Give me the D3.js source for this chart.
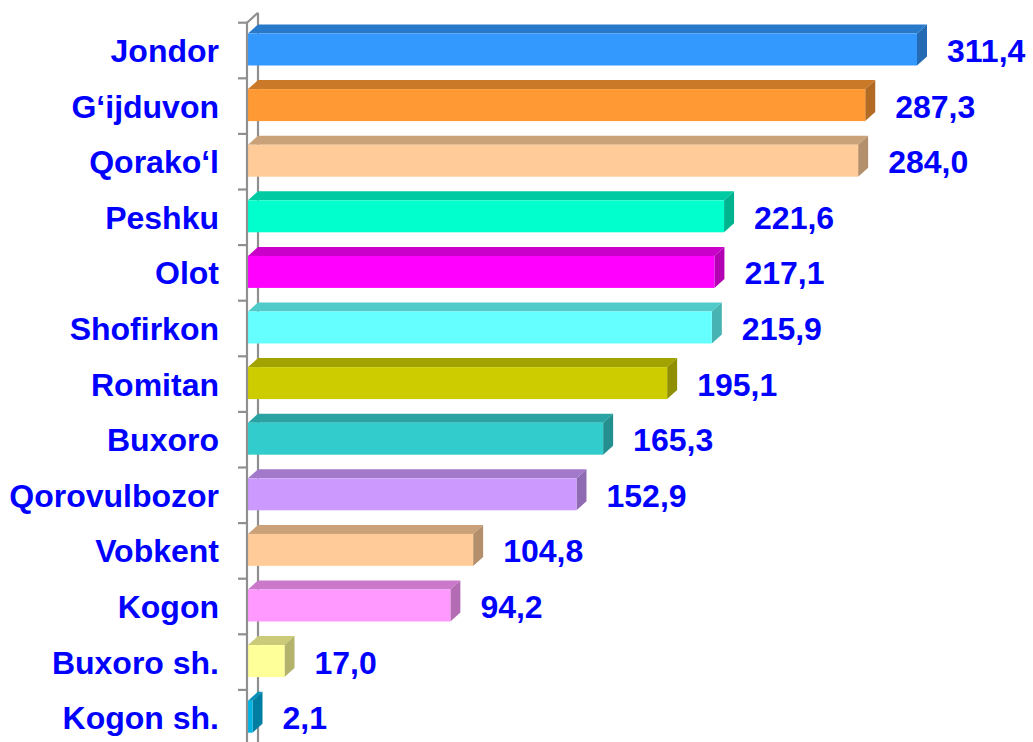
<!DOCTYPE html>
<html>
<head>
<meta charset="utf-8">
<script src="https://cdn.jsdelivr.net/npm/d3@7"></script>
<style>
  html, body { margin: 0; padding: 0; background: #fff; }
  svg { display: block; }
  text { font-family: "Liberation Sans", Arial, sans-serif; font-weight: bold; fill: #0000FF; }
</style>
</head>
<body>
<svg id="chart" width="1033" height="742"></svg>
<script>
// District names and values
const districts = ["Jondor", "G‘ijduvon", "Qorako‘l", "Peshku", "Olot", "Shofirkon",
  "Romitan", "Buxoro", "Qorovulbozor", "Vobkent", "Kogon", "Buxoro sh.", "Kogon sh."];
const values = [311.4, 287.3, 284.0, 221.6, 217.1, 215.9, 195.1, 165.3, 152.9, 104.8, 94.2, 17.0, 2.1];

// Front-face colour of each bar
const palette = ["#3399FF", "#FF9933", "#FFCC99", "#00FFCC", "#FF00FF", "#66FFFF",
  "#CCCC00", "#33CCCC", "#CC99FF", "#FFCC99", "#FF99FF", "#FFFF99", "#00B4E6"];

const svg = d3.select("#chart");
const depthX = 10, depthY = 9;      // oblique depth of the 3D bars
const x0 = 248;

const x = d3.scaleLinear().domain([0, 311.4]).range([x0, 917]);
const y = d3.scaleBand().domain(districts).range([22.7, 22.7 + 55.6 * districts.length]);

const fmt = v => d3.format(".1f")(v).replace(".", ",");
const axisColor = "#8f8f8f";

// back wall edge and its top diagonal
svg.append("line")
  .attr("x1", x0 + depthX).attr("x2", x0 + depthX)
  .attr("y1", y.range()[0] - depthY - 1).attr("y2", 742)
  .attr("stroke", axisColor).attr("stroke-width", 2.2);
svg.append("line")
  .attr("x1", x0 - 1).attr("y1", y.range()[0])
  .attr("x2", x0 + depthX).attr("y2", y.range()[0] - depthY - 1)
  .attr("stroke", axisColor).attr("stroke-width", 2.2);

const rows = districts.map((d, i) => ({ name: d, value: values[i], color: palette[i] }));

const bar = svg.append("g").selectAll("g").data(rows).join("g");
const faceH = 32;
bar.each(function (d) {
  const g = d3.select(this);
  const cy = y(d.name) + y.bandwidth() / 2;
  const yt = cy - faceH / 2 - 1, yb = yt + faceH;
  const x1 = x(d.value);
  const c = d3.color(d.color);
  // top face
  g.append("polygon")
    .attr("points", [[x0, yt], [x0 + depthX, yt - depthY], [x1 + depthX, yt - depthY], [x1, yt]].join(" "))
    .attr("fill", c.darker(0.65));
  // end face
  g.append("polygon")
    .attr("points", [[x1, yt], [x1 + depthX, yt - depthY], [x1 + depthX, yb - depthY], [x1, yb]].join(" "))
    .attr("fill", c.darker(1.0));
  // front face
  g.append("rect")
    .attr("x", x0).attr("y", yt).attr("width", x1 - x0).attr("height", faceH)
    .attr("fill", d.color);
  // value label
  g.append("text")
    .attr("x", x1 + depthX + 20).attr("y", cy).attr("dy", "0.36em")
    .attr("font-size", 32)
    .text(fmt(d.value));
});

// front axis line with tick marks
const axisG = svg.append("g");
axisG.append("line")
  .attr("x1", x0 - 1).attr("x2", x0 - 1)
  .attr("y1", y.range()[0]).attr("y2", 742)
  .attr("stroke", axisColor).attr("stroke-width", 2.2);
const tickYs = d3.range(districts.length + 1).map(i => y.range()[0] + i * y.step());
axisG.selectAll(".tick").data(tickYs).join("line")
  .attr("x1", x0 - 10).attr("x2", x0 - 1)
  .attr("y1", d => d).attr("y2", d => d)
  .attr("stroke", axisColor).attr("stroke-width", 2.2);

// category labels
svg.append("g").selectAll("text").data(districts).join("text")
  .attr("x", 219).attr("y", d => y(d) + y.bandwidth() / 2).attr("dy", "0.36em")
  .attr("text-anchor", "end").attr("font-size", 32)
  .text(d => d);
</script>
</body>
</html>
